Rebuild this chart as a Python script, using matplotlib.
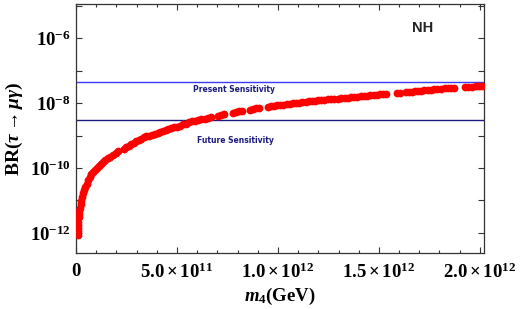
import numpy as np
import matplotlib
matplotlib.use("Agg")
import matplotlib.pyplot as plt
from matplotlib.ticker import FixedLocator, FixedFormatter, MultipleLocator

plt.rcParams['mathtext.fontset'] = 'custom'
plt.rcParams['mathtext.rm'] = 'Liberation Serif:bold'
plt.rcParams['mathtext.it'] = 'Liberation Serif:italic:bold'
plt.rcParams['mathtext.bf'] = 'Liberation Serif:bold'
plt.rcParams['font.family'] = ['Liberation Serif', 'DejaVu Serif']
plt.rcParams['font.weight'] = 'bold'

# m4 in units of 1e11 GeV, log10 of branching ratio
m4_e11 = [0.09, 0.09, 0.10, 0.10, 0.11, 0.12, 0.13,
          0.15, 0.17, 0.20, 0.23, 0.26, 0.30, 0.35, 0.40, 0.45, 0.52, 0.60, 0.68, 0.76,
          0.85, 0.94, 1.04, 1.14, 1.24, 1.34, 1.46, 1.58, 1.70, 1.83, 1.96, 2.08,
          2.36, 2.48, 2.60, 2.72, 2.85, 2.98, 3.10, 3.22, 3.35, 3.48, 3.62, 3.76, 3.90,
          4.04, 4.16, 4.30, 4.44, 4.58, 4.72, 4.86, 5.00, 5.15, 5.30, 5.45, 5.60, 5.75,
          5.90, 6.05, 6.20,
          6.40, 6.55, 6.70, 7.05, 7.20, 7.35, 7.75, 7.90, 8.05, 8.20,
          8.60, 8.75, 8.90, 9.05, 9.50, 9.65, 9.80, 9.95, 10.10, 10.25, 10.45, 10.60,
          10.75, 10.90, 11.05, 11.20, 11.40, 11.55, 11.70, 11.85, 12.00, 12.15, 12.30,
          12.50, 12.65, 12.80, 12.95, 13.10, 13.30, 13.45, 13.60, 13.75, 13.90, 14.10,
          14.25, 14.40, 14.55, 14.75, 14.90, 15.05, 15.20, 15.35,
          15.90, 16.05, 16.35, 16.50, 16.65, 16.80, 16.95, 17.10, 17.25, 17.45, 17.60,
          17.75, 17.90, 18.05, 18.25, 18.40, 18.55, 18.70,
          19.25, 19.40, 19.60, 19.80, 19.95, 20.10]
log10_br = [-12.06, -11.95, -11.85, -11.75, -11.65, -11.55, -11.50,
            -11.42, -11.33, -11.23, -11.12, -11.02, -10.90, -10.77, -10.67, -10.58, -10.48, -10.37, -10.28, -10.20,
            -10.13, -10.06, -9.99, -9.93, -9.87, -9.82, -9.76, -9.70, -9.65, -9.60, -9.54, -9.49,
            -9.40, -9.36, -9.31, -9.27, -9.22, -9.17, -9.13, -9.10, -9.06, -9.03, -9.00, -8.97, -8.94,
            -8.91, -8.89, -8.86, -8.83, -8.80, -8.78, -8.75, -8.73, -8.70, -8.66, -8.63, -8.59, -8.56,
            -8.54, -8.52, -8.50,
            -8.48, -8.46, -8.44, -8.39, -8.37, -8.35, -8.30, -8.28, -8.26, -8.24,
            -8.20, -8.18, -8.16, -8.14, -8.11, -8.09, -8.08, -8.07, -8.06, -8.05, -8.03, -8.02,
            -8.01, -8.00, -7.99, -7.97, -7.96, -7.95, -7.94, -7.93, -7.92, -7.91, -7.90,
            -7.89, -7.88, -7.87, -7.86, -7.85, -7.84, -7.83, -7.82, -7.81, -7.80, -7.79,
            -7.78, -7.77, -7.76, -7.75, -7.74, -7.73, -7.72, -7.71,
            -7.69, -7.68, -7.67, -7.66, -7.65, -7.64, -7.63, -7.62, -7.61, -7.60, -7.59,
            -7.58, -7.57, -7.56, -7.55, -7.55, -7.54, -7.53,
            -7.51, -7.50, -7.50, -7.49, -7.48, -7.48]

present_sens = 4.4e-8
future_sens = 3.0e-9

xticks = [0, 5.0e11, 1.0e12, 1.5e12, 2.0e12]
xticklabels = ['0', r'$5.0\times10^{11}$', r'$1.0\times10^{12}$',
               r'$1.5\times10^{12}$', r'$2.0\times10^{12}$']
ytick_exps = [-12, -11, -10, -9, -8, -7, -6, -5]
ytick_labels = [r'$10^{-12}$', '', r'$10^{-10}$', '', r'$10^{-8}$', '', r'$10^{-6}$', '']

fig = plt.figure(figsize=(5.26, 3.09), dpi=100)
ax = fig.add_axes([0.1445, 0.181, 0.7755, 0.806])

m = np.array(m4_e11) * 1e11
br = 10.0 ** np.array(log10_br)

ax.axhline(present_sens, color='#3a3aff', lw=1.0, zorder=2)
ax.axhline(future_sens, color='#1c1c80', lw=1.0, zorder=2)
ax.plot(m, br, 'o', color='#ff0000', ms=5.6, mec='none', zorder=3)

ax.set_yscale('log')
ax.set_xlim(0, 2.02e12)
ax.set_ylim(10 ** -12.62, 10 ** -4.95)

ax.yaxis.set_major_locator(FixedLocator([10.0 ** e for e in ytick_exps]))
ax.yaxis.set_major_formatter(FixedFormatter(ytick_labels))
ax.yaxis.set_minor_locator(FixedLocator([]))
ax.xaxis.set_major_locator(FixedLocator(xticks))
ax.xaxis.set_major_formatter(FixedFormatter(xticklabels))
ax.xaxis.set_minor_locator(MultipleLocator(1e11))

ax.tick_params(which='both', direction='in', top=True, right=True, colors='#333333',
               labelcolor='black', labelsize=13.5, width=0.8)
ax.tick_params(which='major', length=4.5)
ax.tick_params(which='minor', length=2.5)
ax.tick_params(axis='x', pad=7)
ax.tick_params(axis='y', pad=4)
for sp in ax.spines.values():
    sp.set_color('#333333')
    sp.set_linewidth(0.9)

ax.set_xlabel(r'$m_4$(GeV)', fontsize=13.5, fontweight='bold', labelpad=3)
ax.set_ylabel(r'BR$(\tau\rightarrow\mu\gamma)$', fontsize=14, fontweight='bold', labelpad=3)

ax.text(0.58e12, 10 ** -7.58, 'Present Sensitivity', fontsize=5.5, color='#1c1c80',
        family='DejaVu Sans', fontweight='bold', ha='left', va='center')
ax.text(0.60e12, 10 ** -9.15, 'Future Sensitivity', fontsize=5.5, color='#1c1c80',
        family='DejaVu Sans', fontweight='bold', ha='left', va='center')
ax.text(1.715e12, 10 ** -5.7, 'NH', fontsize=10.5, fontweight='bold', color='#222222',
        family='Liberation Sans', ha='center', va='center')

fig.savefig('out.png', dpi=100)
